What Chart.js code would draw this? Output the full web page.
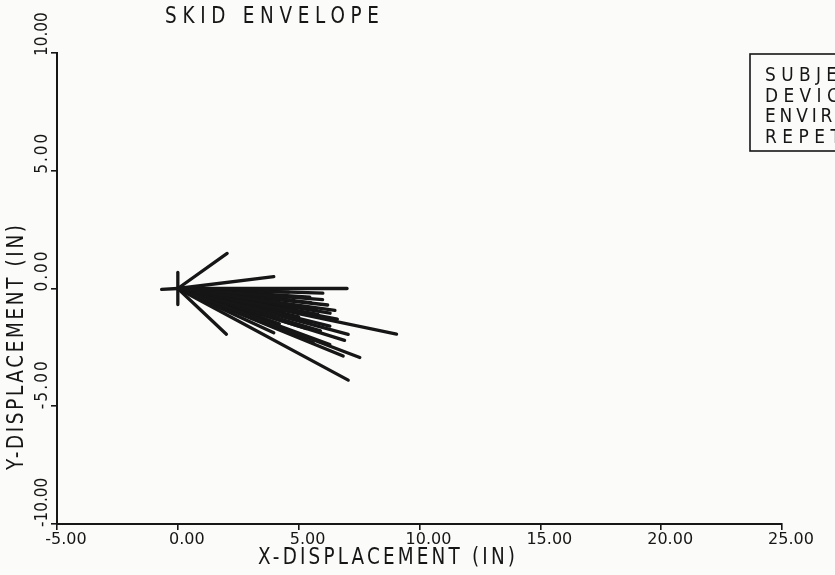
<!DOCTYPE html>
<html>
<head>
<meta charset="utf-8">
<title>Skid Envelope</title>
<script src="https://cdn.jsdelivr.net/npm/chart.js"></script>
<style>
  body { margin: 0; background: #fbfbfa; }
  #wrap { width: 835px; height: 575px; }
</style>
</head>
<body>
<div id="wrap"><canvas id="skid"></canvas></div>
<script>
// end points of every skid trace; each trace starts at the origin (inches)
const rayX = [2.04, 3.97, 7.00, 5.99, 5.46, 6.50, 5.74, 5.19, 9.05, 7.05,
              6.29, 7.53, 6.84, 6.29, 7.05, 3.97, 4.50, 3.12, 4.22, 3.53,
              2.57, 4.63, 5.46, 2.01, -0.67, 0.00, 0.00, 4.90, 3.60, 5.20,
              6.00, 5.50, 4.80, 6.20, 5.00, 5.80, 4.40, 3.80, 6.60, 5.90,
              4.20, 6.90, 5.60, 4.00, 3.20, 2.80, 6.30, 4.60, 5.30, 3.40];
const rayY = [1.49, 0.50, 0.00, -0.47, -0.37, -0.93, -0.89, -1.03, -1.94, -1.95,
              -1.60, -2.93, -2.87, -2.38, -3.89, -1.88, -1.74, -0.96, -0.68, -0.40,
              -0.18, -1.25, -1.46, -1.94, -0.04, 0.68, -0.68, -0.80, -1.45, -2.05,
              -0.20, -0.60, -0.50, -0.70, -1.20, -1.10, -1.00, -0.80, -1.30, -1.80,
              -1.50, -2.20, -2.30, -0.30, -0.60, -0.90, -1.05, -0.15, -1.70, -1.20];

const xTicks = [-5, 0, 5, 10, 15, 20, 25];
const yTicks = [-10, -5, 0, 5, 10];
const legendLines = ['SUBJECT', 'DEVICE', 'ENVIRONMENT', 'REPETITION'];

const ink = '#161616';
const face = '"DejaVu Sans", sans-serif';

// narrow plotter lettering: squeeze the glyphs, then spread them to fill a width
function spaced(ctx, text, x, y, width, size, squeeze) {
    ctx.save();
    ctx.translate(x, y);
    ctx.scale(squeeze, 1);
    ctx.font = size + 'px ' + face;
    ctx.letterSpacing = '0px';
    const w = ctx.measureText(text).width;
    const gap = Math.max(0, (width / squeeze - w) / Math.max(1, text.length - 1));
    ctx.letterSpacing = gap + 'px';
    ctx.textAlign = 'left';
    ctx.textBaseline = 'middle';
    ctx.fillText(text, 0, 0);
    ctx.restore();
}

const paper = {
    id: 'paper',
    beforeDraw(chart) {
        const ctx = chart.ctx;
        ctx.save();
        ctx.fillStyle = '#fbfbfa';
        ctx.fillRect(0, 0, chart.width, chart.height);
        ctx.restore();
    },
    afterDraw(chart) {
        const ctx = chart.ctx;
        const ys = chart.scales.y;
        ctx.save();
        ctx.fillStyle = ink;
        ctx.strokeStyle = ink;

        spaced(ctx, 'SKID ENVELOPE', 165, 17, 214, 23, 0.8);
        spaced(ctx, 'X-DISPLACEMENT (IN)', 258, 558, 257, 23, 0.8);

        // rotated y title and tick labels, reading bottom to top
        ctx.save();
        ctx.translate(17, 470);
        ctx.rotate(-Math.PI / 2);
        spaced(ctx, 'Y-DISPLACEMENT (IN)', 0, 0, 245, 23, 0.8);
        ctx.restore();

        yTicks.forEach(v => {
            const py = ys.getPixelForValue(v);
            ctx.save();
            ctx.translate(42, py + 3);
            ctx.rotate(-Math.PI / 2);
            spaced(ctx, v.toFixed(2), 0, 0, v < 0 ? 48 : 40, 18, 0.85);
            ctx.restore();
        });

        // run description box, running off the right edge
        ctx.lineWidth = 1.6;
        ctx.strokeRect(750, 54, 120, 97);
        legendLines.forEach((t, i) => {
            spaced(ctx, t, 765, 76 + i * 20.5, t.length * 15, 20, 0.85);
        });
        ctx.restore();
    }
};

const datasets = rayX.map((x, i) => ({
    data: [{ x: 0, y: 0 }, { x: x, y: rayY[i] }],
    borderColor: ink,
    borderWidth: 3.3,
    borderCapStyle: 'round',
    pointRadius: 0,
    showLine: true,
    tension: 0
}));

new Chart(document.getElementById('skid'), {
    type: 'scatter',
    data: { datasets },
    options: {
        responsive: true,
        maintainAspectRatio: false,
        animation: false,
        events: [],
        layout: { padding: { top: 53, right: 53, left: 0, bottom: 0 } },
        plugins: { legend: { display: false }, tooltip: { enabled: false } },
        scales: {
            x: {
                type: 'linear',
                min: -5, max: 25,
                afterBuildTicks: s => { s.ticks = xTicks.map(v => ({ value: v })); },
                afterFit: s => { s.height = 51; },
                grid: { drawOnChartArea: false, drawTicks: true, tickLength: 6, color: ink, lineWidth: 1.6 },
                border: { display: true, color: ink, width: 2 },
                ticks: {
                    color: ink,
                    font: { family: 'DejaVu Sans', size: 16 },
                    padding: 0,
                    labelOffset: 9,
                    maxRotation: 0,
                    callback: v => v.toFixed(2)
                }
            },
            y: {
                type: 'linear',
                min: -10, max: 10,
                afterBuildTicks: s => { s.ticks = yTicks.map(v => ({ value: v })); },
                afterFit: s => { s.width = 57; },
                grid: { drawOnChartArea: false, drawTicks: true, tickLength: 6, color: ink, lineWidth: 1.6 },
                border: { display: true, color: ink, width: 2 },
                ticks: { display: false }
            }
        }
    },
    plugins: [paper]
});
</script>
</body>
</html>
